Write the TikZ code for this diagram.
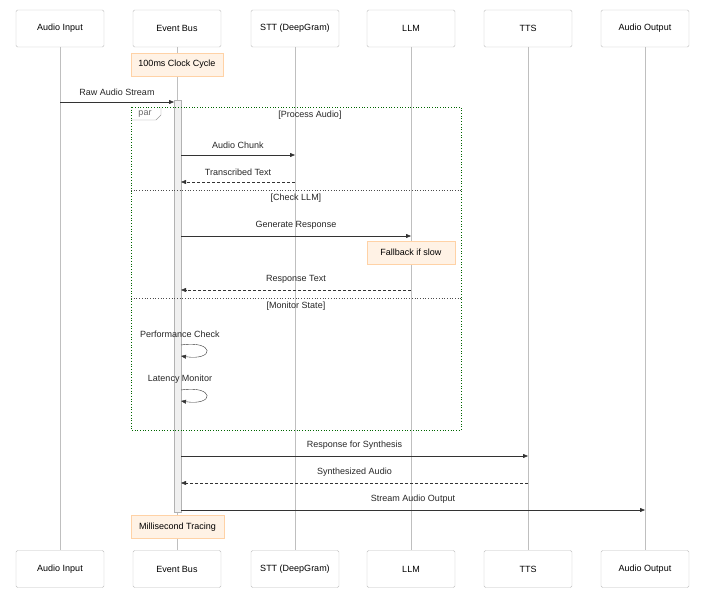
\documentclass[tikz,border=0pt]{standalone}
\usepackage{fontspec}
\setmainfont{Liberation Sans}
\usetikzlibrary{arrows.meta}
\begin{document}
\begin{tikzpicture}[x=1pt,y=-1pt,font=\fontsize{9}{11}\selectfont,
 actor/.style={draw=black!25,fill=white,rounded corners=1.5pt,minimum width=88pt,minimum height=37pt,inner sep=0pt},
 note/.style={draw=orange!35,fill=orange!10,minimum height=23pt,inner sep=3pt},
 life/.style={draw=black!25,line width=0.8pt},
 msg/.style={draw=black!80,-{Triangle[length=5pt,width=4pt]}},
 ret/.style={msg,densely dashed},
 lbl/.style={inner sep=0pt,text=black!85},
 frame/.style={draw=green!40!black,dotted,line width=0.7pt},
 sep/.style={draw=black!70,dotted,line width=0.7pt}]
\useasboundingbox (0,0) rectangle (716,602);
\foreach \n/\x/\t in {ai/60/Audio Input,eb/177/Event Bus,stt/295/STT (DeepGram),llm/411/LLM,tts/528/TTS,ao/645/Audio Output}{
 \draw[life] (\x,47) -- (\x,550);
 \node[actor] (\n t) at (\x,28.5) {\t};
 \node[actor] (\n b) at (\x,569) {\t};
}
\draw[draw=black!30,fill=black!6] (174,100) rectangle (181,512);
\node[note,minimum width=92pt] (n1) at (177,64.5) {100ms Clock Cycle};
\node[note,minimum width=88pt] (n2) at (411,252.5) {Fallback if slow};
\node[note,minimum width=93pt] (n3) at (177.5,527) {Millisecond Tracing};
% par frame
\draw[frame] (131,107) rectangle (461,430);
\draw[sep] (131,190) -- (461,190);
\draw[sep] (131,298) -- (461,298);
\draw[draw=black!40] (131,120) -- (156,120) -- (161,115) -- (161,107);
\node[lbl,text=black!60] (par) at (145,114.5) {par};
\node[lbl] (s1) at (310,115) {[Process Audio]};
\node[lbl] (s2) at (296,198) {[Check LLM]};
\node[lbl] (s3) at (296,306) {[Monitor State]};
% messages
\coordinate (a1) at (60,102); \coordinate (a2) at (174,102);
\draw[msg] (a1) -- (a2) node[lbl,midway,above=6pt] {Raw Audio Stream};
\coordinate (b1) at (181,155); \coordinate (b2) at (295,155);
\draw[msg] (b1) -- (b2) node[lbl,midway,above=6pt] {Audio Chunk};
\coordinate (c1) at (295,182); \coordinate (c2) at (181,182);
\draw[ret] (c1) -- (c2) node[lbl,midway,above=6pt] {Transcribed Text};
\coordinate (d1) at (181,236); \coordinate (d2) at (411,236);
\draw[msg] (d1) -- (d2) node[lbl,midway,above=6pt] {Generate Response};
\coordinate (e1) at (411,290); \coordinate (e2) at (181,290);
\draw[ret] (e1) -- (e2) node[lbl,midway,above=6pt] {Response Text};
\coordinate (f1) at (181,345); \coordinate (f2) at (181,356);
\draw[msg] (f1) .. controls (215,340) and (215,361) .. (f2);
\node[lbl] (fl) at (180,334) {Performance Check};
\coordinate (g1) at (181,390); \coordinate (g2) at (181,401);
\draw[msg] (g1) .. controls (215,385) and (215,406) .. (g2);
\node[lbl] (gl) at (180,379) {Latency Monitor};
\coordinate (h1) at (181,456); \coordinate (h2) at (528,456);
\draw[msg] (h1) -- (h2) node[lbl,midway,above=6pt] {Response for Synthesis};
\coordinate (i1) at (528,483); \coordinate (i2) at (181,483);
\draw[ret] (i1) -- (i2) node[lbl,midway,above=6pt] {Synthesized Audio};
\coordinate (j1) at (181,510); \coordinate (j2) at (645,510);
\draw[msg] (j1) -- (j2) node[lbl,midway,above=6pt] {Stream Audio Output};
\end{tikzpicture}
\end{document}
